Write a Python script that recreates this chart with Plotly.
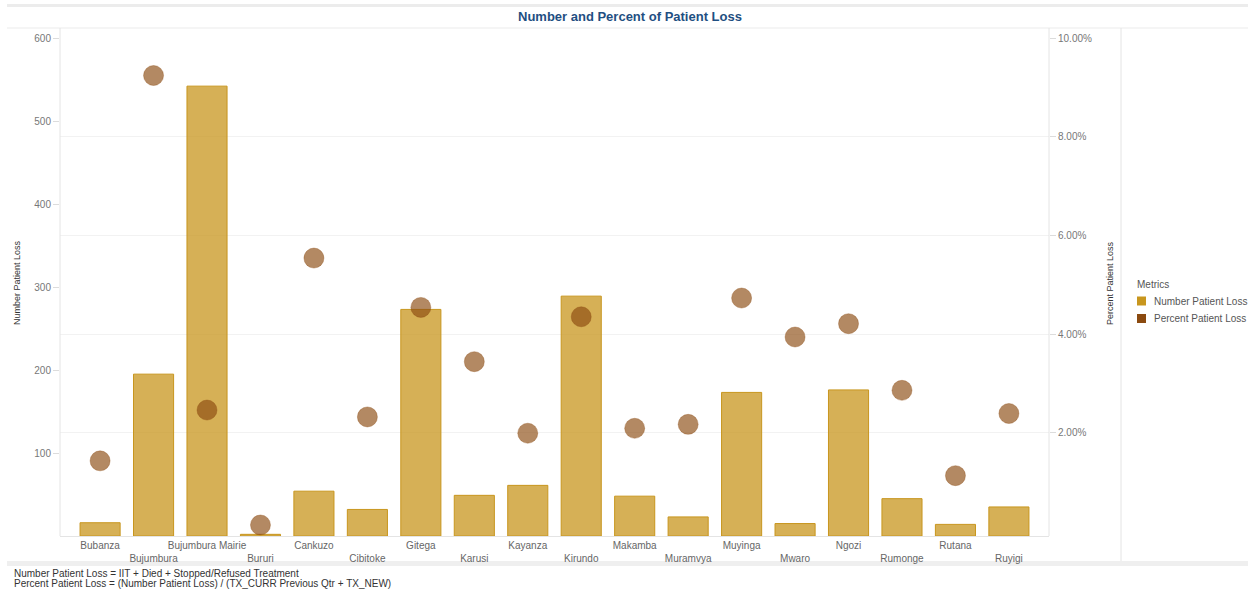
import plotly.graph_objects as go

# Province-level patient loss figures
provinces = ["Bubanza", "Bujumbura", "Bujumbura Mairie", "Bururi", "Cankuzo", "Cibitoke",
             "Gitega", "Karusi", "Kayanza", "Kirundo", "Makamba", "Muramvya",
             "Muyinga", "Mwaro", "Ngozi", "Rumonge", "Rutana", "Ruyigi"]
number_loss = [16, 195, 542, 2, 54, 32, 273, 49, 61, 289, 48, 23, 173, 15, 176, 45, 14, 35]
percent_loss = [0.0143, 0.0924, 0.0246, 0.0013, 0.0554, 0.0232, 0.0454, 0.0344, 0.0199,
                0.0435, 0.0209, 0.0217, 0.0473, 0.0394, 0.0421, 0.0286, 0.0113, 0.0239]

left_ticks = [100, 200, 300, 400, 500, 600]
right_ticks = [0.02, 0.04, 0.06, 0.08, 0.10]
metric_names = ["Number Patient Loss", "Percent Patient Loss"]

# staggered category labels: every second label drops to a second line
tick_text = [p if i % 2 == 0 else "<br>" + p for i, p in enumerate(provinces)]

W, H = 1248, 592
L, R, T, B = 60, 1049, 38, 536


def xp(px):
    return (px - L) / (R - L)


def yp(py):
    return (B - py) / (B - T)


FONT = "Liberation Sans, Arial, sans-serif"
GOLD = "#c8961e"
BROWN = "#8b4a10"

fig = go.Figure()

fig.add_trace(go.Bar(
    x=provinces, y=number_loss, width=0.75,
    marker=dict(color="rgba(200,150,30,0.75)", line=dict(color=GOLD, width=1)),
    name=metric_names[0], yaxis="y",
))
fig.add_trace(go.Scatter(
    x=provinces, y=percent_loss, mode="markers",
    marker=dict(size=20, color="rgba(139,74,16,0.65)",
                line=dict(color="rgba(139,74,16,0.35)", width=1)),
    name=metric_names[1], yaxis="y2",
))

fig.update_layout(
    width=W, height=H,
    margin=dict(l=L, r=W - R, t=T, b=H - B, autoexpand=False),
    paper_bgcolor="white", plot_bgcolor="white",
    font=dict(family=FONT, size=10, color="#777"),
    showlegend=False,
    xaxis=dict(
        type="category", range=[-0.75, 17.75],
        tickvals=provinces, ticktext=tick_text, tickangle=0, automargin=False,
        showgrid=False, showline=True, linecolor="#e4e4e4", linewidth=1,
        ticks="", tickfont=dict(size=10, color="#666"),
        zeroline=False,
    ),
    yaxis=dict(
        range=[0, 600], tickvals=left_ticks, automargin=False,
        showgrid=False, showline=False, zeroline=False,
        ticks="outside", ticklen=6, tickcolor="#dcdcdc",
        tickfont=dict(size=10, color="#777"),
    ),
    yaxis2=dict(
        overlaying="y", side="right", automargin=False,
        range=[-0.00093, 0.1], tickvals=right_ticks, tickformat=".2%",
        showgrid=True, gridcolor="#f2f2f2", gridwidth=1,
        showline=False, zeroline=False,
        ticks="outside", ticklen=6, tickcolor="#dcdcdc",
        tickfont=dict(size=10, color="#777"),
    ),
)

# panel frame lines and bands
shapes = [
    dict(type="rect", xref="paper", yref="paper", x0=xp(7), x1=xp(W), y0=yp(7), y1=yp(4),
         fillcolor="#ececec", line=dict(width=0), layer="below"),
    dict(type="line", xref="paper", yref="paper", x0=xp(7), x1=xp(W), y0=yp(28), y1=yp(28),
         line=dict(color="#ebebeb", width=1)),
    dict(type="rect", xref="paper", yref="paper", x0=xp(7), x1=xp(W), y0=yp(566), y1=yp(561),
         fillcolor="#efefef", line=dict(width=0), layer="below"),
    dict(type="line", xref="paper", yref="paper", x0=xp(L), x1=xp(L), y0=yp(28), y1=yp(B),
         line=dict(color="#e4e4e4", width=1)),
    dict(type="line", xref="paper", yref="paper", x0=xp(R), x1=xp(R), y0=yp(28), y1=yp(B),
         line=dict(color="#e4e4e4", width=1)),
    dict(type="line", xref="paper", yref="paper", x0=xp(1121), x1=xp(1121), y0=yp(28), y1=yp(561),
         line=dict(color="#e4e4e4", width=1)),
]

annotations = [
    dict(text="<b>Number and Percent of Patient Loss</b>", xref="paper", yref="paper",
         x=xp(630), y=yp(17), xanchor="center", yanchor="middle", showarrow=False,
         font=dict(size=13, color="#1f4f82", family=FONT)),
    dict(text="Number Patient Loss", xref="paper", yref="paper", x=xp(17), y=yp(283),
         textangle=-90, xanchor="center", yanchor="middle", showarrow=False,
         font=dict(size=9, color="#333", family=FONT)),
    dict(text="Percent Patient Loss", xref="paper", yref="paper", x=xp(1110), y=yp(283),
         textangle=-90, xanchor="center", yanchor="middle", showarrow=False,
         font=dict(size=9, color="#333", family=FONT)),
    dict(text="Number Patient Loss = IIT + Died + Stopped/Refused Treatment",
         xref="paper", yref="paper", x=xp(12), y=yp(573), xanchor="left", yanchor="middle",
         showarrow=False, font=dict(size=10, color="#333", family=FONT)),
    dict(text="Percent Patient Loss = (Number Patient Loss) / (TX_CURR Previous Qtr + TX_NEW)",
         xref="paper", yref="paper", x=xp(12), y=yp(583.5), xanchor="left", yanchor="middle",
         showarrow=False, font=dict(size=10, color="#333", family=FONT)),
    # legend block
    dict(text="Metrics", xref="paper", yref="paper", x=xp(1135), y=yp(284),
         xanchor="left", yanchor="middle", showarrow=False,
         font=dict(size=10, color="#555", family=FONT)),
]

legend_colors = [GOLD, BROWN]
legend_rows = [301, 318.5]
for name, col, row in zip(metric_names, legend_colors, legend_rows):
    shapes.append(dict(type="rect", xref="paper", yref="paper",
                       x0=xp(1137), x1=xp(1146), y0=yp(row + 4.5), y1=yp(row - 4.5),
                       fillcolor=col, line=dict(width=0)))
    annotations.append(dict(text=name, xref="paper", yref="paper", x=xp(1152), y=yp(row),
                            xanchor="left", yanchor="middle", showarrow=False,
                            font=dict(size=10, color="#555", family=FONT)))

fig.update_layout(shapes=shapes, annotations=annotations)

fig.write_html("out.html")
